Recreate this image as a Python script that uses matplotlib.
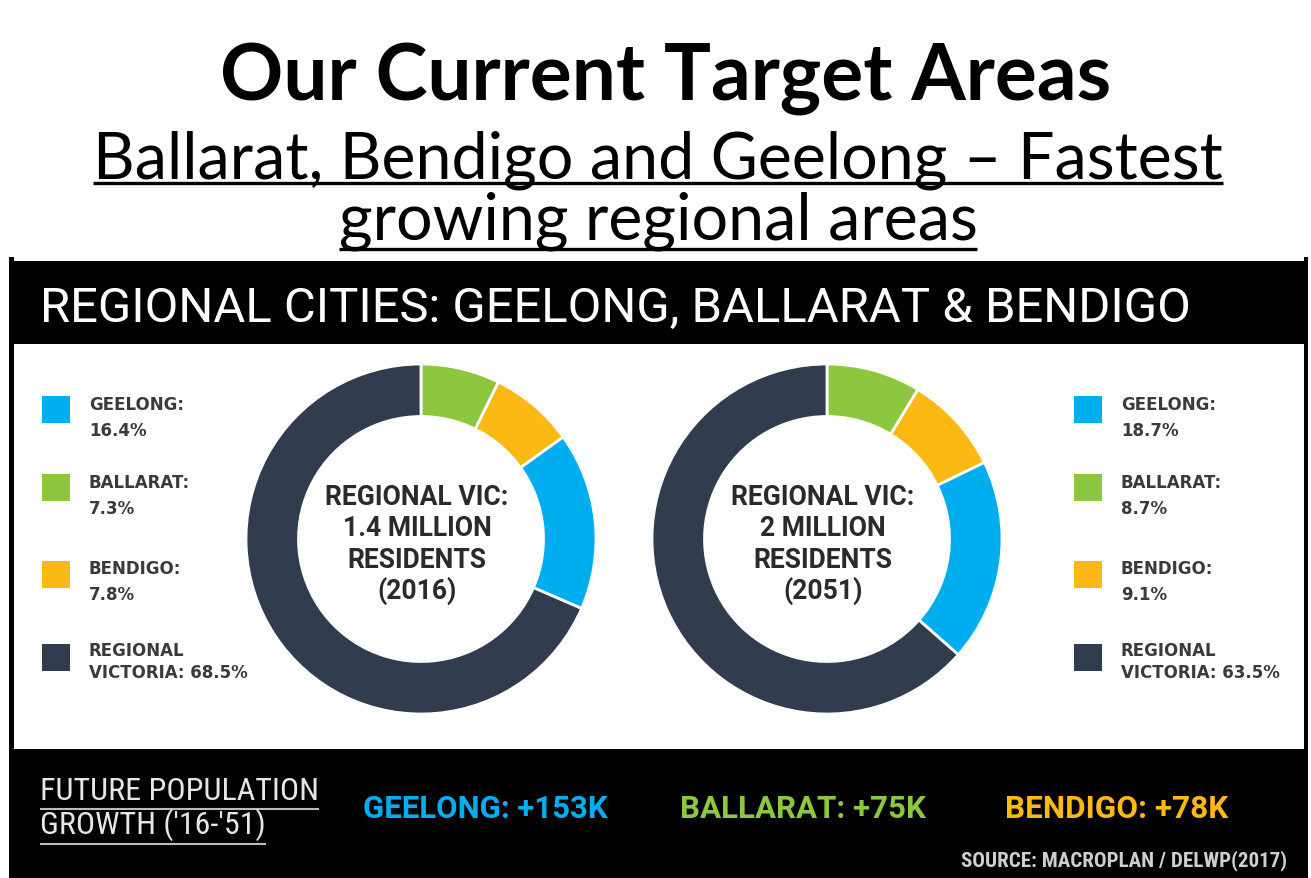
import matplotlib
matplotlib.use("Agg")
import matplotlib.pyplot as plt
from matplotlib import font_manager
from matplotlib.patches import Rectangle

# ---------------- data ----------------
cities = ["GEELONG", "BALLARAT", "BENDIGO", "REGIONAL\nVICTORIA"]
share_2016 = [16.4, 7.3, 7.8, 68.5]
share_2051 = [18.7, 8.7, 9.1, 63.5]
growth_cities = ["GEELONG", "BALLARAT", "BENDIGO"]
growth_k = [153, 75, 78]
center_2016 = ["REGIONAL VIC:", "1.4 MILLION", "RESIDENTS", "(2016)"]
center_2051 = ["REGIONAL VIC:", "2 MILLION", "RESIDENTS", "(2051)"]
pie_order = [1, 2, 0, 3]  # ballarat, bendigo, geelong, regional (clockwise from top)

title = "Our Current Target Areas"
subtitle_1 = "Ballarat, Bendigo and Geelong \u2013 Fastest"
subtitle_2 = "growing regional areas"
header = "REGIONAL CITIES: GEELONG, BALLARAT & BENDIGO"
footer_label = ["FUTURE POPULATION", "GROWTH ('16-'51)"]
source = "SOURCE: MACROPLAN / DELWP(2017)"

# ---------------- style ----------------
colors = ["#00aeef", "#8dc63f", "#fdb913", "#313d4f"]
text_dark = "#3a3a3a"

def pick(names):
    for n in names:
        try:
            font_manager.findfont(font_manager.FontProperties(family=n), fallback_to_default=False)
            return n
        except Exception:
            pass
    return "DejaVu Sans"

NARROW = pick(["Roboto Condensed", "Liberation Sans Narrow", "Roboto"])
ROBO = pick(["Roboto", "DejaVu Sans"])
GEO = pick(["Lato", "DejaVu Sans"])

W, H = 1311, 879
fig = plt.figure(figsize=(W / 100, H / 100), dpi=100)
bg = fig.add_axes([0, 0, 1, 1])
bg.set_xlim(0, W)
bg.set_ylim(H, 0)
bg.axis("off")
renderer = fig.canvas.get_renderer()

def fit(t, width):
    bb = t.get_window_extent(renderer)
    t.set_fontsize(t.get_fontsize() * width / bb.width)
    return t

def underline(t, dy, lw, color):
    bb = t.get_window_extent(renderer)
    y = H - bb.y0 + dy
    bg.plot([bb.x0, bb.x1], [y, y], color=color, lw=lw, solid_capstyle="butt")

# title
t = bg.text(666, 100, title, ha="center", va="baseline", fontsize=50,
            fontweight="bold", family=GEO, color="black")
fit(t, 893)
s1 = bg.text(658, 178, subtitle_1, ha="center", va="baseline", fontsize=40,
             family=GEO, color="black")
fit(s1, 1130)
bb = s1.get_window_extent(renderer)
bg.plot([bb.x0, bb.x1], [184, 184], color="black", lw=2.4, solid_capstyle="butt")
s2 = bg.text(658, 240, subtitle_2, ha="center", va="baseline",
             fontsize=s1.get_fontsize(), family=GEO, color="black")
bb = s2.get_window_extent(renderer)
bg.plot([bb.x0, bb.x1], [250, 250], color="black", lw=2.4, solid_capstyle="butt")

# frame
bg.add_patch(Rectangle((9, 258), 5, H - 258, color="black", lw=0))
bg.add_patch(Rectangle((1304, 258), 4, H - 258, color="black", lw=0))
bg.add_patch(Rectangle((9, 262), 1295, 83, color="black", lw=0))
bg.add_patch(Rectangle((9, 750), 1295, H - 750, color="black", lw=0))

h = bg.text(40, 322, header, ha="left", va="baseline", fontsize=30,
            family=ROBO, color="white")
fit(h, 1147)

# donuts
def donut(cx, cy, r, shares, lines):
    ax = fig.add_axes([(cx - r) / W, 1 - (cy + r) / H, 2 * r / W, 2 * r / H])
    vals = [shares[i] for i in pie_order]
    cols = [colors[i] for i in pie_order]
    ax.pie(vals, colors=cols, startangle=90, counterclock=False, radius=1,
           wedgeprops=dict(width=0.30, edgecolor="white", linewidth=2.0))
    ax.set_xlim(-1, 1)
    ax.set_ylim(-1, 1)
    ax.axis("off")
    txts = []
    for k, ln in enumerate(lines):
        tt = bg.text(cx - 4, cy - 35 + 31.3 * k, ln, ha="center", va="baseline",
                     fontsize=20, family=ROBO, fontweight="bold", color="#2a2a2a")
        txts.append(tt)
    fit(txts[0], 183)
    for tt in txts[1:]:
        tt.set_fontsize(txts[0].get_fontsize())

donut(421, 540, 175, share_2016, center_2016)
donut(827, 540, 175, share_2051, center_2051)

# legends
sq_top = [397, 475, 562, 645]
base1 = [410, 488, 574, 656]
base2 = [436, 514, 600, 678]
def legend(xsq, xtx, shares):
    for i, name in enumerate(cities):
        bg.add_patch(Rectangle((xsq, sq_top[i]), 28, 27, color=colors[i], lw=0))
        if "\n" in name:
            a, b = name.split("\n")
            l1, l2 = a, b + ": " + f"{shares[i]}%"
        else:
            l1, l2 = name + ":", f"{shares[i]}%"
        for txt, yb in ((l1, base1[i]), (l2, base2[i])):
            bg.text(xtx, yb, txt, ha="left", va="baseline", fontsize=12,
                    family="DejaVu Sans", fontweight="bold", color=text_dark)

legend(42, 89, share_2016)
legend(1074, 1121, share_2051)

# footer
f1 = bg.text(40, 800, footer_label[0], ha="left", va="baseline", fontsize=18,
             family=NARROW, color="#e6e6e6")
fit(f1, 278)
f2 = bg.text(40, 834, footer_label[1], ha="left", va="baseline",
             fontsize=f1.get_fontsize(), family=NARROW, color="#e6e6e6")
underline(f1, 4, 1.5, "#bbbbbb")
underline(f2, 4, 1.5, "#bbbbbb")

gx = [363, 680, 1005]
gw = [244, 245, 223]
for i, (c, v) in enumerate(zip(growth_cities, growth_k)):
    g = bg.text(gx[i], 818, f"{c}: +{v}K", ha="left", va="baseline", fontsize=20,
                family=ROBO, fontweight="bold", color=colors[i])
    fit(g, gw[i])

sr = bg.text(1287, 866, source, ha="right", va="baseline", fontsize=11,
             family=NARROW, fontweight="bold", color="#cfcfcf")
fit(sr, 325)

fig.savefig("out.png", dpi=100, facecolor="white")
